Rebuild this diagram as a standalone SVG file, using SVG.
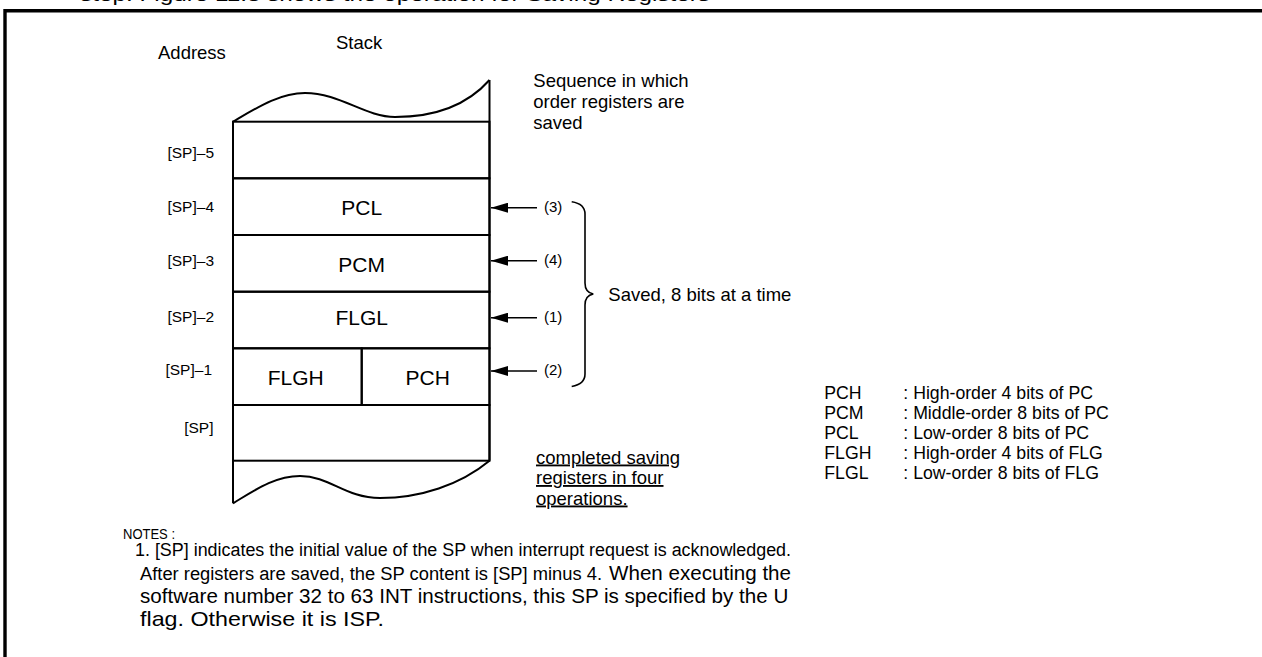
<svg xmlns="http://www.w3.org/2000/svg" width="1262" height="657" viewBox="0 0 1262 657">
<style>
text{font-family:"Liberation Sans",Arial,sans-serif;fill:#000}
.cell{fill:none;stroke:#000;stroke-width:2}
.edge{fill:none;stroke:#000;stroke-width:2}
.reg{font-size:21px;text-anchor:middle}
.addr{font-size:15.5px;text-anchor:end}
.lab{font-size:18.5px}
.num{font-size:15px}
.leg{font-size:17.7px}
.narrow{font-size:18px}
.note{font-size:20.6px}
.arrow{fill:none;stroke:#000;stroke-width:1.6;marker-end:url(#ah)}
</style>
<defs>
<marker id="ah" markerUnits="userSpaceOnUse" viewBox="0 0 17 10" refX="17" refY="5" markerWidth="17" markerHeight="10" orient="auto">
<path d="M0,0 L17,5 L0,10 z" fill="#000"/>
</marker>
</defs>
<rect width="1262" height="657" fill="#fff"/>
<path d="M5,657 V10.7 H1262" fill="none" stroke="#000" stroke-width="3.4"/>
<text x="80" y="0.8" font-size="18" textLength="630" lengthAdjust="spacingAndGlyphs">step. Figure 11.8 shows the operation for Saving Registers</text>

<text x="158" y="59" class="lab" font-size="20.5">Address</text>
<text x="336" y="49" class="lab" font-size="20.5">Stack</text>

<g id="stack">
<path class="edge" d="M233,121.7 C258,107 280,93 305,93 C340,93 365,117 395,117 C440,117 470,102 489.5,80"/>
<path class="edge" d="M489.5,460.7 C460,485 420,498 380,498 C345,498 330,476 300,476 C275,476 255,490 233,503.3"/>
<path class="edge" d="M233,121.7 V503.3 M489.5,80 V460.7"/>
</g>
<g id="cell-sp5"><rect class="cell" x="233" y="121.7" width="256.5" height="56.6"/></g>
<g id="cell-pcl"><rect class="cell" x="233" y="178.3" width="256.5" height="56.7"/><text class="reg" x="361.7" y="215">PCL</text></g>
<g id="cell-pcm"><rect class="cell" x="233" y="235" width="256.5" height="56.7"/><text class="reg" x="361.7" y="271.7">PCM</text></g>
<g id="cell-flgl"><rect class="cell" x="233" y="291.7" width="256.5" height="56.6"/><text class="reg" x="361.7" y="325">FLGL</text></g>
<g id="cell-flgh"><rect class="cell" x="233" y="348.3" width="128.7" height="56.7"/><text class="reg" x="295.7" y="385">FLGH</text></g>
<g id="cell-pch"><rect class="cell" x="361.7" y="348.3" width="127.8" height="56.7"/><text class="reg" x="427.7" y="385">PCH</text></g>
<g id="cell-sp"><rect class="cell" x="233" y="405" width="256.5" height="55.7"/></g>

<g id="addresses">
<text class="addr" x="214" y="158">[SP]–5</text>
<text class="addr" x="214" y="212">[SP]–4</text>
<text class="addr" x="214" y="266">[SP]–3</text>
<text class="addr" x="214" y="322">[SP]–2</text>
<text class="addr" x="212" y="375">[SP]–1</text>
<text class="addr" x="213.5" y="433">[SP]</text>
</g>

<g id="connectors">
<line class="arrow" x1="537" y1="207.7" x2="491" y2="207.7"/>
<line class="arrow" x1="537" y1="260.7" x2="491" y2="260.7"/>
<line class="arrow" x1="537" y1="317.7" x2="491" y2="317.7"/>
<line class="arrow" x1="537" y1="371" x2="491" y2="371"/>
</g>

<g id="order-labels">
<text class="num" x="544" y="212">(3)</text>
<text class="num" x="544" y="265">(4)</text>
<text class="num" x="544" y="321.5">(1)</text>
<text class="num" x="544" y="375">(2)</text>
</g>

<g id="brace">
<path d="M571.7,201.7 C580,203 585,207 585,214 V283 C585,289 588,293 593.3,294 C588,295 585,299 585,305 V374 C585,381 580,385 571.7,386.5" fill="none" stroke="#000" stroke-width="1.6"/>
<text class="lab" x="608.3" y="301">Saved, 8 bits at a time</text>
</g>

<g id="sequence-note">
<text class="lab" x="533.3" y="86.7">Sequence in which</text>
<text class="lab" x="533.3" y="107.7">order registers are</text>
<text class="lab" x="533.3" y="128.5">saved</text>
</g>

<g id="completed-note">
<text class="lab" x="536" y="463.5" text-decoration="underline">completed saving</text>
<text class="lab" x="536" y="484" text-decoration="underline">registers in four</text>
<text class="lab" x="536" y="504.5" text-decoration="underline">operations.</text>
</g>

<g id="legend">
<text class="leg" x="824.3" y="398.5">PCH</text><text class="leg" x="903.3" y="398.5">: High-order 4 bits of PC</text>
<text class="leg" x="824.3" y="418.6">PCM</text><text class="leg" x="903.3" y="418.6">: Middle-order 8 bits of PC</text>
<text class="leg" x="824.3" y="438.7">PCL</text><text class="leg" x="903.3" y="438.7">: Low-order 8 bits of PC</text>
<text class="leg" x="824.3" y="458.8">FLGH</text><text class="leg" x="903.3" y="458.8">: High-order 4 bits of FLG</text>
<text class="leg" x="824.3" y="478.9">FLGL</text><text class="leg" x="903.3" y="478.9">: Low-order 8 bits of FLG</text>
</g>

<g id="notes">
<text x="123" y="539" font-size="15.5" textLength="52" lengthAdjust="spacingAndGlyphs">NOTES :</text>
<text class="narrow" x="135" y="556" textLength="656" lengthAdjust="spacingAndGlyphs">1. [SP] indicates the initial value of the SP when interrupt request is acknowledged.</text>
<text class="narrow" x="140" y="580" textLength="462" lengthAdjust="spacingAndGlyphs">After registers are saved, the SP content is [SP] minus 4.</text>
<text class="note" x="609" y="580">When executing the</text>
<text class="note" x="140" y="603">software number 32 to 63 INT instructions, this SP is specified by the U</text>
<text class="note" x="140" y="626" textLength="244" lengthAdjust="spacingAndGlyphs">flag. Otherwise it is ISP.</text>
</g>
</svg>
